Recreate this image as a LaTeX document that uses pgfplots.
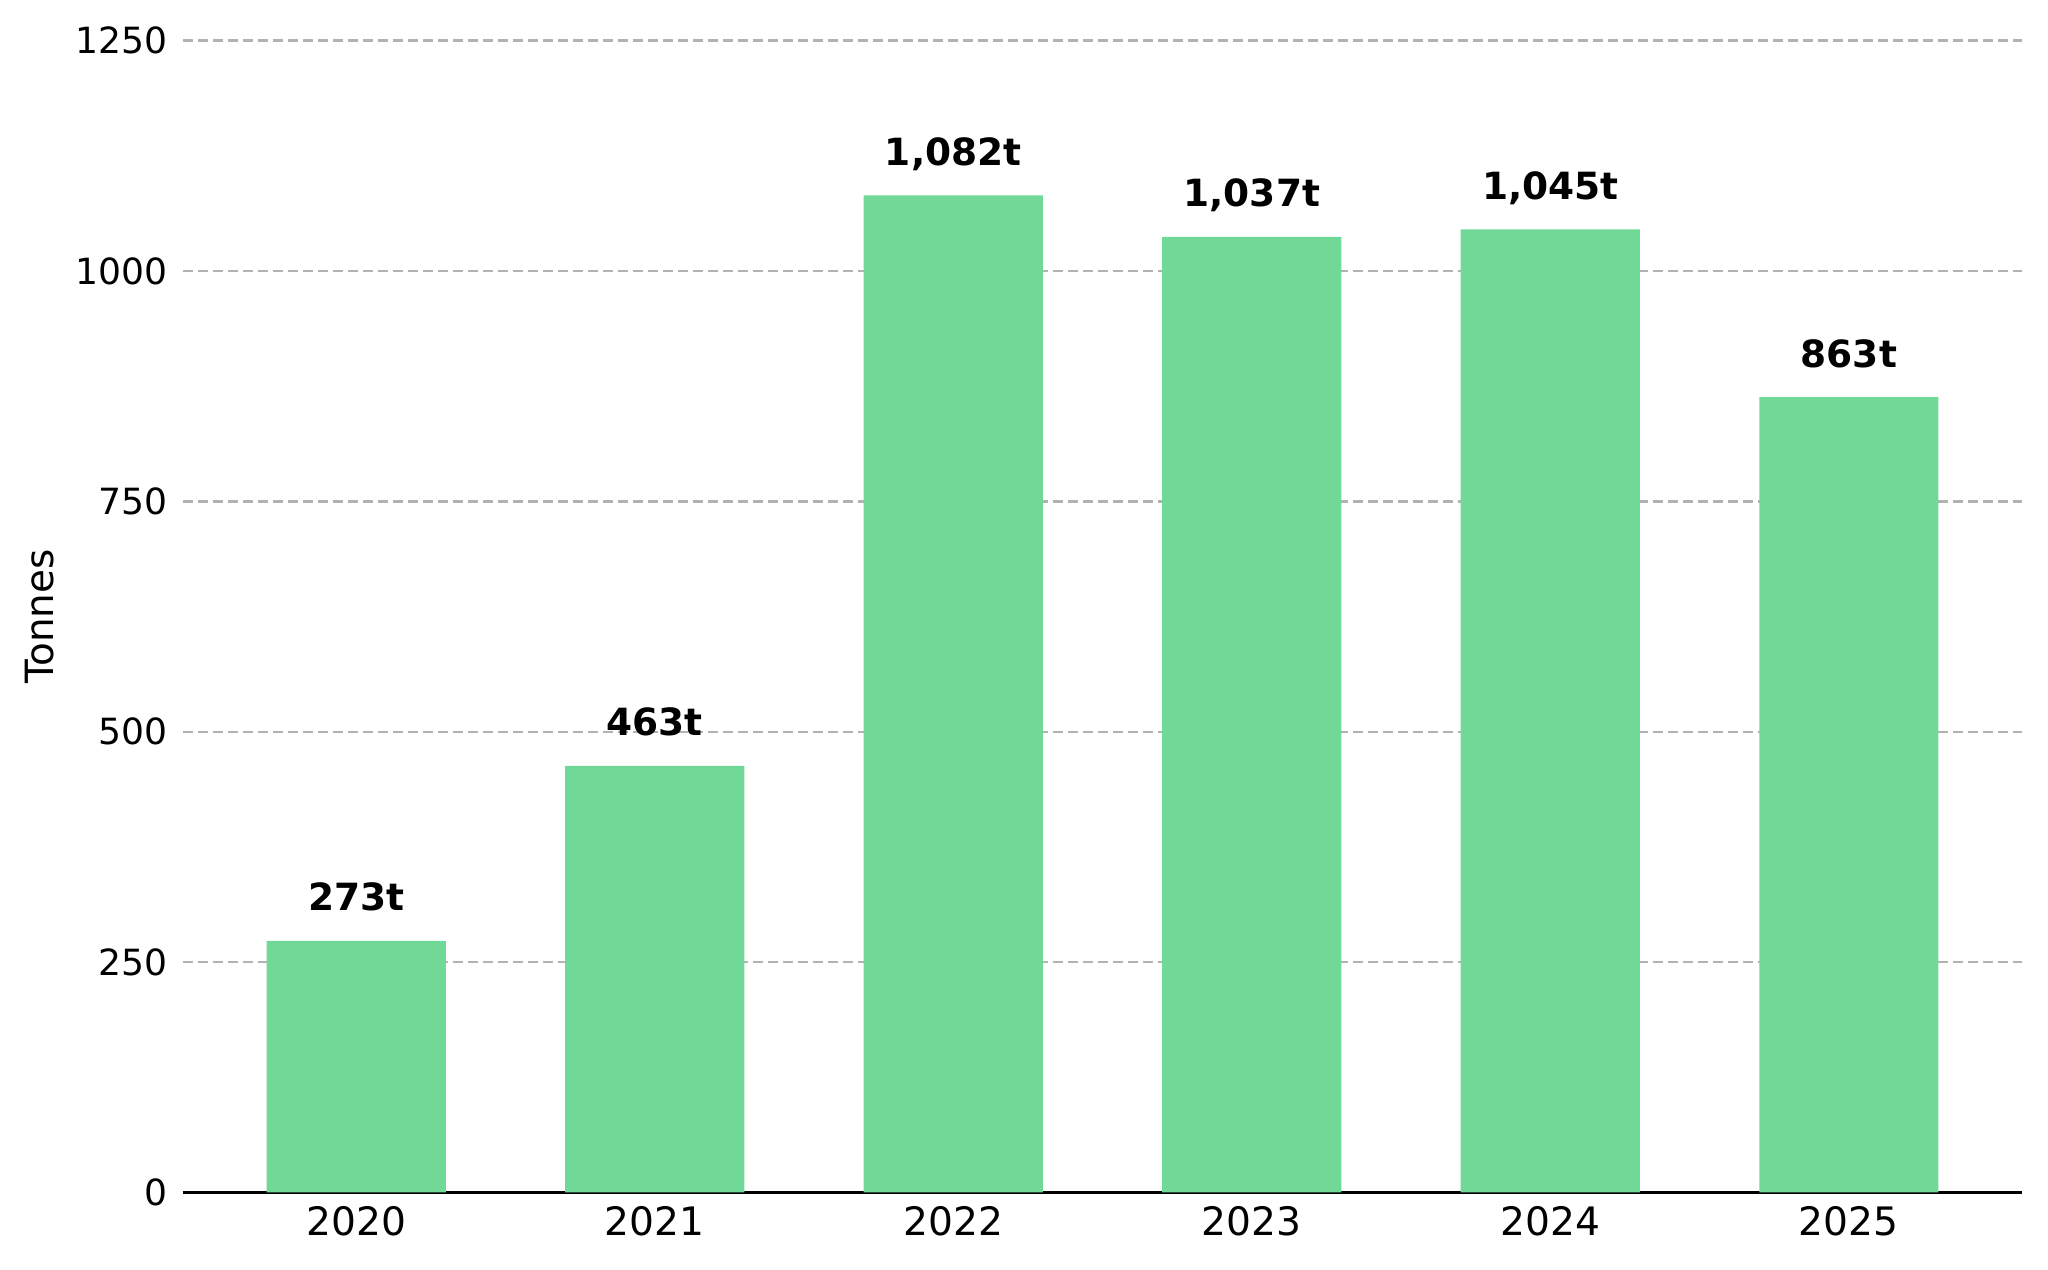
\documentclass[border=0pt]{standalone}
\usepackage{pgfplots}
\pgfplotsset{compat=1.18}
\usepackage{pgfplotstable}
\usepackage{fontspec}
\setmainfont{DejaVu Sans}
\definecolor{barg}{RGB}{112,217,151}
\definecolor{gridg}{RGB}{178,178,178}
\pgfplotstableread{
x y label
0 273 273t
1 463 463t
2 1082 1,082t
3 1037 1,037t
4 1045 1,045t
5 863 863t
}\datatab
\begin{document}
\begin{tikzpicture}
\useasboundingbox (0,0) rectangle (737.28bp,457.2bp);
\begin{axis}[
  at={(65.9bp,27.9bp)}, anchor=south west,
  scale only axis, width=662bp, height=414.7bp,
  xmin=-0.58, xmax=5.58, ymin=0, ymax=1250,
  xtick={0,1,2,3,4,5},
  xticklabels={2020,2021,2022,2023,2024,2025},
  ytick={0,250,500,750,1000,1250},
  yticklabels={0,250,500,750,1000,1250},
  major tick length=0pt,
  axis x line*=bottom, axis y line*=left,
  y axis line style={draw=none},
  x axis line style={black, line width=1.1bp, -},
  ymajorgrids,
  grid style={gridg, line width=0.85bp, dash pattern=on 3.6bp off 1.8bp},
  /pgf/number format/assume math mode=true,
  xticklabel style={font=\fontsize{14.1bp}{17bp}\selectfont, inner sep=0pt, anchor=north, yshift=-4.8bp},
  yticklabel style={font=\fontsize{13bp}{16bp}\selectfont, inner sep=0pt, anchor=east, xshift=-5.4bp},
  ylabel={Tonnes},
  ylabel style={font=\fontsize{14bp}{17bp}\selectfont, at={(axis description cs:-0.0778,0.5)}, anchor=center, inner sep=0pt},
  clip=false,
]
\addplot[ybar, bar width=0.6, fill=barg, draw=none,
  nodes near coords, point meta=explicit symbolic,
  every node near coord/.style={font=\fontsize{13.5bp}{17bp}\selectfont\bfseries, anchor=base, inner sep=0pt, yshift=10.8bp, black}]
  table[x=x, y=y, meta=label] {\datatab};
\end{axis}
\end{tikzpicture}
\end{document}
